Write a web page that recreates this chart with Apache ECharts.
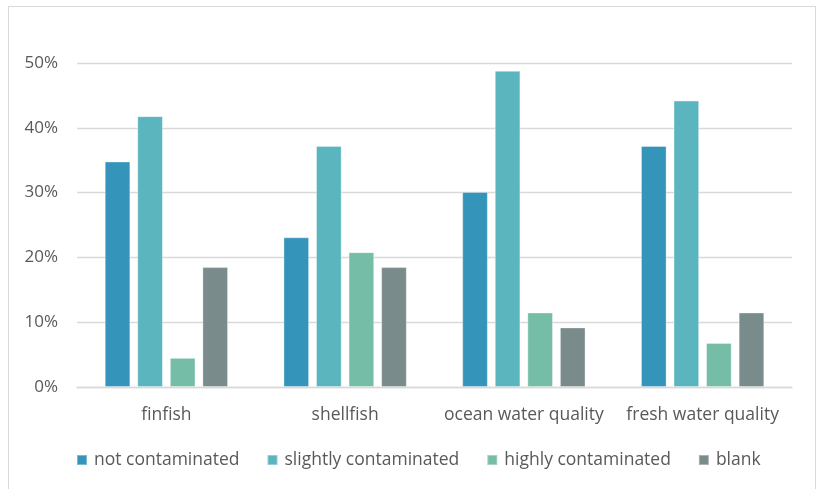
<!DOCTYPE html>
<html>
<head>
<meta charset="utf-8">
<script src="https://cdn.jsdelivr.net/npm/echarts@6/dist/echarts.min.js"></script>
<style>
  html, body { margin: 0; padding: 0; background: #ffffff; }
  #frame { position: absolute; left: 8px; top: 6px; width: 808px; height: 490px;
           border: 1px solid #d9d9d9; border-bottom: none; box-sizing: border-box; }
  #chart { position: absolute; left: 0; top: 0; width: 817px; height: 489px; }
</style>
</head>
<body>
<div id="frame"></div>
<div id="chart"></div>
<script>
// Survey categories and share of responses (%) per contamination perception
const categories = ['finfish', 'shellfish', 'ocean water quality', 'fresh water quality'];
const seriesNames = ['not contaminated', 'slightly contaminated', 'highly contaminated', 'blank'];
const notContaminated = [34.8, 23.1, 30.1, 37.2];
const slightlyContaminated = [41.8, 37.2, 48.8, 44.2];
const highlyContaminated = [4.5, 20.8, 11.5, 6.8];
const blank = [18.5, 18.5, 9.2, 11.5];
const yTicks = { min: 0, max: 50, interval: 10 };

const palette = ['#3594BA', '#5AB5BF', '#76BDA7', '#7A8B8C'];
const values = [notContaminated, slightlyContaminated, highlyContaminated, blank];
const fontFamily = '"Open Sans", Lato, sans-serif';

const chart = echarts.init(document.getElementById('chart'), null, { renderer: 'canvas' });
chart.setOption({
  animation: false,
  color: palette,
  grid: { left: 77, right: 25, top: 63, bottom: 102, containLabel: false },
  legend: {
    top: 446,
    left: 71,
    itemWidth: 10,
    itemHeight: 10,
    itemGap: 27,
    icon: 'rect',
    textStyle: { color: '#595959', fontSize: 17.5, fontFamily: fontFamily, padding: [0, 0, 0, 2] },
    data: seriesNames
  },
  xAxis: {
    type: 'category',
    data: categories,
    axisLine: { lineStyle: { color: '#d9d9d9', width: 1.3 } },
    axisTick: { show: false },
    axisLabel: { color: '#595959', fontSize: 17.5, fontFamily: fontFamily, margin: 19, interval: 0 }
  },
  yAxis: {
    type: 'value',
    min: yTicks.min,
    max: yTicks.max,
    interval: yTicks.interval,
    axisLine: { show: false },
    axisTick: { show: false },
    splitLine: { lineStyle: { color: '#d9d9d9', width: 1.3 } },
    axisLabel: { color: '#595959', fontSize: 17, fontFamily: fontFamily, margin: 19,
                 formatter: v => v + '%' }
  },
  series: seriesNames.map((name, i) => ({
    name: name,
    type: 'bar',
    data: values[i],
    barGap: '27%',
    barCategoryGap: '31%',
    itemStyle: { borderColor: 'rgba(255,255,255,0.35)', borderWidth: 1 }
  }))
});
</script>
</body>
</html>
